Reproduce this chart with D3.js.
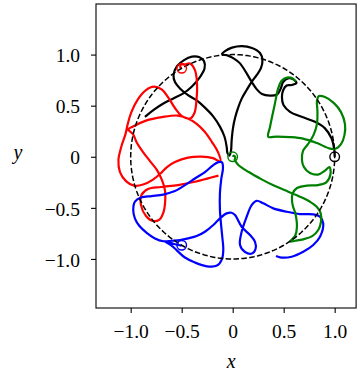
<!DOCTYPE html>
<html><head><meta charset="utf-8">
<script src="https://cdn.jsdelivr.net/npm/d3@7"></script>
<style>body{margin:0;background:#fff}svg{display:block}</style>
</head><body>
<script>
// ---- data ----
const xTicks = [-1, -0.5, 0, 0.5, 1];
const xTickLabels = ["\u22121.0", "\u22120.5", "0", "0.5", "1.0"];
const yTicks = [-1, -0.5, 0, 0.5, 1];
const yTickLabels = ["\u22121.0", "\u22120.5", "0", "0.5", "1.0"];

const blackPath = [[-0.860,0.391],[-0.778,0.457],[-0.680,0.522],[-0.582,0.571],[-0.484,0.620],[-0.402,0.685],[-0.321,0.780],[-0.276,0.863],[-0.281,0.936],[-0.330,0.976],[-0.399,0.980],[-0.477,0.946],[-0.546,0.887],[-0.580,0.799],[-0.566,0.731],[-0.517,0.669],[-0.438,0.604],[-0.350,0.550],[-0.272,0.481],[-0.193,0.398],[-0.125,0.295],[-0.080,0.196],[-0.059,0.098],[-0.051,0.036],[-0.033,0.012],[-0.017,0.056],[-0.010,0.163],[0.003,0.281],[0.023,0.379],[0.052,0.477],[0.091,0.574],[0.137,0.653],[0.186,0.734],[0.235,0.799],[0.277,0.868],[0.292,0.946],[0.268,1.015],[0.189,1.064],[0.091,1.083],[-0.007,1.068],[-0.075,1.034],[-0.105,1.005],[-0.046,0.990],[0.013,0.961],[0.072,0.914],[0.137,0.816],[0.186,0.734],[0.235,0.662],[0.287,0.614],[0.366,0.599],[0.434,0.609],[0.469,0.662],[0.496,0.734],[0.542,0.767],[0.594,0.757],[0.625,0.721],[0.578,0.702],[0.529,0.697],[0.496,0.653],[0.483,0.584],[0.498,0.506],[0.562,0.440],[0.676,0.391],[0.807,0.342],[0.905,0.278],[0.969,0.180],[0.996,0.075],[1.0,0.0]];

const greenPath = [[0,0],[0.012,0.012],[0.025,-0.005],[0.02,-0.03],[0.035,-0.055],[0.055,-0.081],[0.153,-0.147],[0.284,-0.221],[0.415,-0.287],[0.545,-0.342],[0.660,-0.391],[0.758,-0.440],[0.824,-0.489],[0.863,-0.554],[0.866,-0.636],[0.839,-0.717],[0.780,-0.776],[0.692,-0.808],[0.611,-0.822],[0.562,-0.830],[0.611,-0.776],[0.630,-0.688],[0.616,-0.561],[0.586,-0.463],[0.586,-0.365],[0.630,-0.306],[0.728,-0.282],[0.836,-0.277],[0.920,-0.248],[0.959,-0.169],[0.949,-0.101],[0.905,-0.135],[0.836,-0.174],[0.758,-0.159],[0.699,-0.101],[0.679,-0.032],[0.689,0.056],[0.738,0.124],[0.792,0.212],[0.826,0.320],[0.831,0.447],[0.826,0.545],[0.846,0.594],[0.905,0.584],[0.993,0.525],[1.062,0.437],[1.101,0.320],[1.096,0.212],[1.062,0.124],[1.013,0.080],[0.954,0.080],[0.826,0.134],[0.689,0.178],[0.562,0.193],[0.434,0.198],[0.349,0.196],[0.366,0.291],[0.390,0.408],[0.415,0.525],[0.444,0.662],[0.478,0.741],[0.532,0.775],[0.581,0.770],[0.616,0.736]];

const bluePath = [[-0.500,-0.869],[-0.575,-0.854],[-0.659,-0.830],[-0.605,-0.864],[-0.546,-0.918],[-0.468,-0.986],[-0.370,-1.035],[-0.252,-1.072],[-0.154,-1.065],[-0.105,-1.001],[-0.092,-0.913],[-0.102,-0.783],[-0.115,-0.652],[-0.125,-0.522],[-0.125,-0.358],[-0.112,-0.218],[-0.095,-0.111],[-0.105,-0.055],[-0.139,-0.052],[-0.190,-0.081],[-0.272,-0.150],[-0.370,-0.213],[-0.468,-0.277],[-0.566,-0.336],[-0.680,-0.370],[-0.794,-0.385],[-0.899,-0.399],[-0.958,-0.438],[-0.975,-0.522],[-0.958,-0.605],[-0.914,-0.678],[-0.840,-0.747],[-0.762,-0.800],[-0.680,-0.827],[-0.598,-0.822],[-0.517,-0.815],[-0.435,-0.798],[-0.353,-0.776],[-0.272,-0.734],[-0.190,-0.668],[-0.125,-0.603],[-0.059,-0.554],[-0.010,-0.548],[0.023,-0.570],[0.088,-0.685],[0.170,-0.766],[0.219,-0.832],[0.224,-0.903],[0.189,-0.947],[0.121,-0.932],[0.072,-0.864],[0.088,-0.734],[0.137,-0.587],[0.186,-0.473],[0.235,-0.431],[0.300,-0.456],[0.398,-0.505],[0.529,-0.538],[0.660,-0.561],[0.790,-0.564],[0.856,-0.587],[0.888,-0.652],[0.856,-0.783],[0.790,-0.864],[0.692,-0.930],[0.578,-0.978],[0.464,-0.984],[0.425,-0.972]];

const redPath = [[-0.500,0.865],[-0.515,0.880],[-0.500,0.905],[-0.473,0.902],[-0.419,0.912],[-0.370,0.848],[-0.350,0.721],[-0.355,0.555],[-0.375,0.428],[-0.419,0.374],[-0.497,0.398],[-0.566,0.477],[-0.634,0.584],[-0.693,0.658],[-0.772,0.687],[-0.850,0.653],[-0.928,0.565],[-0.997,0.428],[-1.031,0.310],[-1.051,0.222],[-1.090,0.105],[-1.120,-0.032],[-1.105,-0.150],[-1.046,-0.238],[-0.968,-0.282],[-0.879,-0.272],[-0.781,-0.223],[-0.698,-0.155],[-0.644,-0.101],[-0.566,-0.052],[-0.438,-0.008],[-0.304,0.002],[-0.193,-0.013],[-0.120,-0.047],[-0.144,0.046],[-0.203,0.144],[-0.272,0.242],[-0.350,0.320],[-0.428,0.369],[-0.536,0.403],[-0.693,0.388],[-0.850,0.354],[-0.977,0.296],[-1.022,0.266],[-0.977,0.222],[-0.938,0.134],[-0.879,0.046],[-0.811,-0.042],[-0.742,-0.130],[-0.693,-0.228],[-0.664,-0.326],[-0.661,-0.424],[-0.678,-0.541],[-0.718,-0.614],[-0.781,-0.629],[-0.850,-0.580],[-0.899,-0.473],[-0.894,-0.375],[-0.830,-0.316],[-0.703,-0.296],[-0.536,-0.277],[-0.370,-0.245],[-0.242,-0.211],[-0.139,-0.184]];

const startPoints = [[1,0],[0,0],[-0.5,-0.866],[-0.5,0.866]];
const curveNames = ["black","green","blue","red"];
const circleRadius = 1;

// ---- drawing ----
const W = 361, H = 371;
const margin = {left: 96, top: 4, right: 4, bottom: 63};
const svg = d3.select("body").append("svg").attr("width", W).attr("height", H);

const x = d3.scaleLinear().domain([-1.34, 1.21]).range([margin.left, W - margin.right - 0.9]);
const y = d3.scaleLinear().domain([-1.48, 1.495]).range([H - margin.bottom, margin.top]);

const font = "'Liberation Serif', 'Times New Roman', serif";
const fs = 19.5;

const clipId = "plotclip";
svg.append("clipPath").attr("id", clipId).append("rect")
  .attr("x", x.range()[0]).attr("y", y.range()[1])
  .attr("width", x.range()[1]-x.range()[0]).attr("height", y.range()[0]-y.range()[1]);

const g = svg.append("g").attr("clip-path", `url(#${clipId})`);

const line = d3.line().x(d => x(d[0])).y(d => y(d[1])).curve(d3.curveCatmullRom.alpha(0.5));

const series = [
  {data: blackPath, color: "#000000"},
  {data: redPath, color: "#ff0000"},
  {data: bluePath, color: "#0000ff"},
  {data: greenPath, color: "#008000"}
];
series.forEach(s => {
  g.append("path").attr("d", line(s.data)).attr("fill", "none")
    .attr("stroke", s.color).attr("stroke-width", 2.2)
    .attr("stroke-linejoin", "round").attr("stroke-linecap", "butt");
});

// dashed unit circle
const circ = d3.range(0, 361, 2).map(a => [circleRadius*Math.cos(a*Math.PI/180), circleRadius*Math.sin(a*Math.PI/180)]);
g.append("path").attr("d", d3.line().x(d => x(d[0])).y(d => y(d[1]))(circ))
  .attr("fill", "none").attr("stroke", "#000").attr("stroke-width", 1.5)
  .attr("stroke-dasharray", "5.5,2.4");

// start markers
const markerColors = {black:"#000000", green:"#008000", blue:"#0000ff", red:"#ff0000"};
startPoints.forEach((p, i) => {
  g.append("circle").attr("cx", x(p[0])).attr("cy", y(p[1])).attr("r", 4.8)
    .attr("fill", "none").attr("stroke", markerColors[curveNames[i]]).attr("stroke-width", 1.4);
});

// frame
svg.append("rect").attr("x", x.range()[0]).attr("y", y.range()[1])
  .attr("width", x.range()[1]-x.range()[0]).attr("height", y.range()[0]-y.range()[1])
  .attr("fill", "none").attr("stroke", "#000").attr("stroke-width", 1.1);

// axes
const xAxis = svg.append("g").attr("transform", `translate(0,${y.range()[0]})`)
  .call(d3.axisBottom(x).tickValues(xTicks).tickFormat((d,i) => xTickLabels[i]).tickSize(5).tickSizeOuter(0));
xAxis.select(".domain").remove();
xAxis.selectAll(".tick line").attr("stroke", "#000").attr("stroke-width", 1.1);
xAxis.selectAll(".tick text").attr("y", 30.3).attr("dy", 0)
  .attr("font-family", font).attr("font-size", fs).attr("fill", "#000");

const yAxis = svg.append("g").attr("transform", `translate(${x.range()[0]},0)`)
  .call(d3.axisLeft(y).tickValues(yTicks).tickFormat((d,i) => yTickLabels[i]).tickSize(5).tickSizeOuter(0));
yAxis.select(".domain").remove();
yAxis.selectAll(".tick line").attr("stroke", "#000").attr("stroke-width", 1.1);
yAxis.selectAll(".tick text").attr("x", -16).attr("dy", "0.37em")
  .attr("font-family", font).attr("font-size", fs).attr("fill", "#000");

// axis labels
svg.append("text").attr("x", x(0) - 1.5).attr("y", 368).attr("text-anchor", "middle")
  .attr("font-family", font).attr("font-size", fs + 0.5).attr("font-style", "italic").text("x");
svg.append("text").attr("x", 18).attr("y", 159).attr("text-anchor", "middle")
  .attr("font-family", font).attr("font-size", fs + 0.5).attr("font-style", "italic").text("y");
</script>
</body></html>
